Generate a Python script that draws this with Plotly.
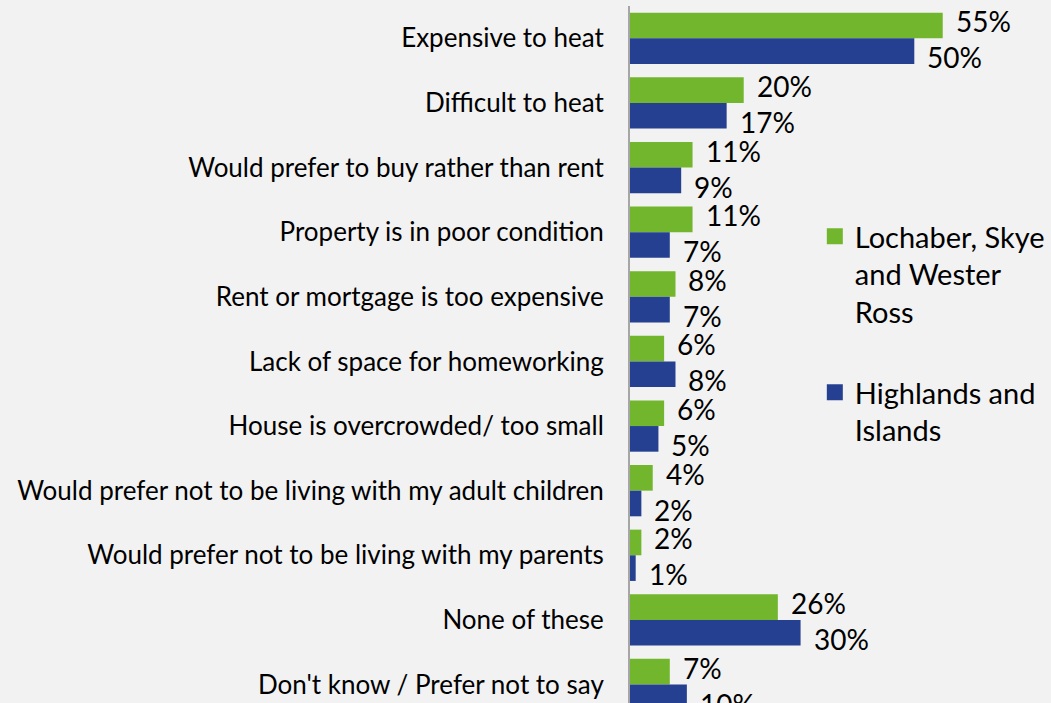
import plotly.graph_objects as go

categories = [
    "Expensive to heat",
    "Difficult to heat",
    "Would prefer to buy rather than rent",
    "Property is in poor condition",
    "Rent or mortgage is too expensive",
    "Lack of space for homeworking",
    "House is overcrowded/ too small",
    "Would prefer not to be living with my adult children",
    "Would prefer not to be living with my parents",
    "None of these",
    "Don't know / Prefer not to say",
]
lochaber = [55, 20, 11, 11, 8, 6, 6, 4, 2, 26, 7]
highlands = [50, 17, 9, 7, 7, 8, 5, 2, 1, 30, 10]

series_names = ["Lochaber, Skye<br>and Wester<br>Ross", "Highlands and<br>Islands"]

GREEN = "#72b62d"
BLUE = "#254090"
BG = "#f2f2f2"
FONT = "Lato"

fig = go.Figure()

for vals, color in [(lochaber, GREEN), (highlands, BLUE)]:
    fig.add_trace(go.Bar(
        y=categories, x=vals, orientation="h",
        marker=dict(color=color, line=dict(width=0)),
        showlegend=False,
        hoverinfo="skip",
    ))

# value labels: green above-right of its bar, blue below-right
for vals, yshift in [(lochaber, 17), (highlands, -19)]:
    for cat, v in zip(categories, vals):
        fig.add_annotation(
            x=v, y=cat, text=f"{v}%", showarrow=False,
            xanchor="left", yanchor="middle", xshift=11, yshift=yshift,
            font=dict(family=FONT, size=28, color="#000000"),
        )

# legend entries (square markers)
for name, color, grp in [(series_names[0], GREEN, "a"), (series_names[1], BLUE, "b")]:
    fig.add_trace(go.Scatter(
        x=[None], y=[None], mode="markers", name=name,
        marker=dict(symbol="square", size=16, color=color),
        legendgroup=grp, showlegend=True,
    ))

fig.update_layout(
    width=1051, height=703,
    paper_bgcolor=BG, plot_bgcolor=BG,
    font=dict(family=FONT, size=26, color="#000000"),
    barmode="group", bargap=0.206, bargroupgap=0,
    margin=dict(l=630, r=0, t=6, b=0),
    legend=dict(
        x=0.439, y=0.706, xanchor="left", yanchor="top",
        font=dict(family=FONT, size=29, color="#000000"),
        valign="top", traceorder="grouped", tracegroupgap=40,
        bgcolor="rgba(0,0,0,0)", itemsizing="trace",
    ),
)
fig.update_xaxes(range=[0, 74.04], visible=False, showgrid=False, zeroline=False)
fig.update_yaxes(
    range=[10.286, -0.5], showgrid=False, zeroline=False,
    showline=True, linecolor="#a6a6a6", linewidth=2,
    ticks="outside", ticklen=19, tickcolor="rgba(0,0,0,0)",
    tickfont=dict(family=FONT, size=26, color="#000000"),
)

fig.write_html(
    "out.html",
    config={"displayModeBar": False},
    post_script="document.body.style.margin='0';",
)
